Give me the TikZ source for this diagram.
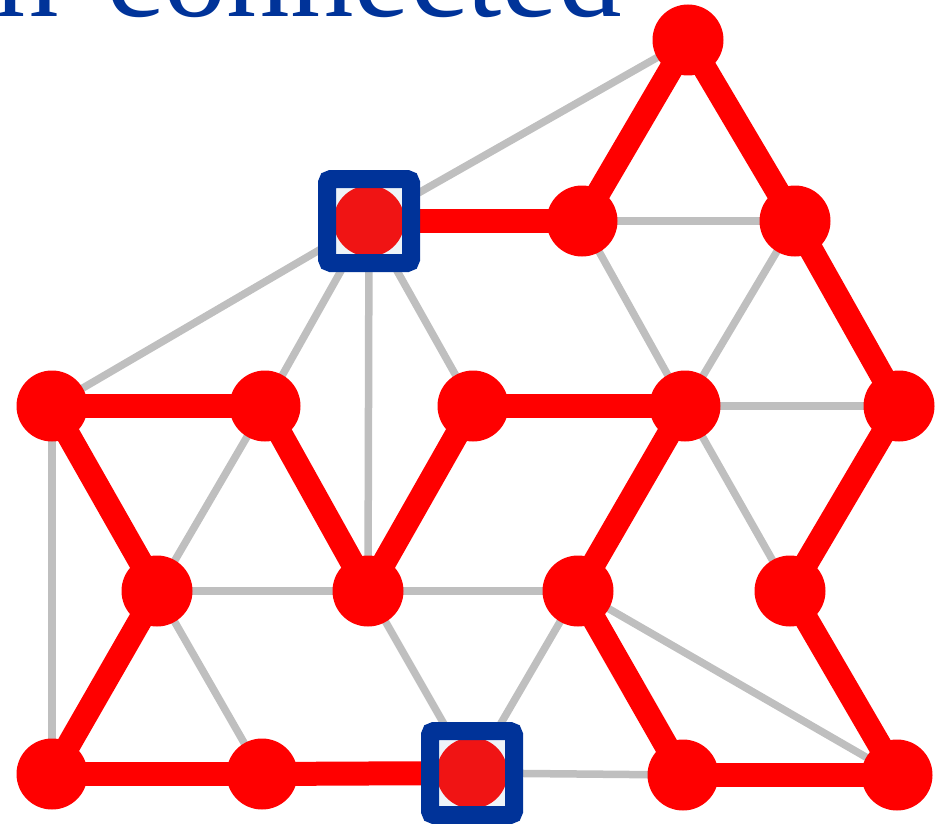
\documentclass[tikz,border=0pt]{standalone}
\usepackage{fontspec}
\setmainfont{Liberation Serif}
\pgfdeclarelayer{bg}
\pgfdeclarelayer{mid}
\pgfdeclarelayer{fg}
\pgfsetlayers{bg,mid,main,fg}
\definecolor{edgered}{RGB}{255,0,0}
\definecolor{termred}{RGB}{240,20,20}
\definecolor{sqblue}{RGB}{0,51,153}
\definecolor{lgray}{RGB}{191,191,191}
\definecolor{sqfill}{RGB}{238,244,248}
\begin{document}
\begin{tikzpicture}[x=1pt,y=-1pt,
  vtx/.style={circle,fill=edgered,minimum size=71pt,inner sep=0pt},
  term/.style={circle,fill=termred,minimum size=71pt,inner sep=0pt},
  gedge/.style={draw=lgray,line width=7.5pt},
  redge/.style={draw=edgered,line width=24pt},
  sqback/.style={fill=sqfill,minimum size=84pt,inner sep=0pt},
  sqframe/.style={draw=sqblue,line width=18pt,rounded corners=4pt,minimum size=84pt,inner sep=0pt},
  title/.style={anchor=base west,text=sqblue,inner sep=0pt,font=\fontsize{127}{130}\selectfont}]
\useasboundingbox (0,0) rectangle (942,824);
\node[title] (ttl) at (-5,17) {\spaceskip=0.38em n connected};
% vertices
\node[vtx] (A) at (688,40) {};
\node[term] (S1) at (369,221) {};
\node[vtx] (B) at (582,221) {};
\node[vtx] (C) at (795,221) {};
\node[vtx] (D) at (52,406) {};
\node[vtx] (E) at (265,406) {};
\node[vtx] (F) at (473,406) {};
\node[vtx] (G) at (685,406) {};
\node[vtx] (H) at (899,406) {};
\node[vtx] (I) at (157,591) {};
\node[vtx] (J) at (368,591) {};
\node[vtx] (K) at (578,591) {};
\node[vtx] (L) at (790,591) {};
\node[vtx] (M) at (52,774) {};
\node[vtx] (N) at (262,774) {};
\node[term] (S2) at (472,773) {};
\node[vtx] (O) at (683,775) {};
\node[vtx] (P) at (897,775) {};
% terminal squares
\begin{pgfonlayer}{mid}
\node[sqback] (S1b) at (S1) {};
\node[sqback] (S2b) at (S2) {};
\end{pgfonlayer}
\begin{pgfonlayer}{fg}
\node[sqframe] (S1f) at (S1) {};
\node[sqframe] (S2f) at (S2) {};
\end{pgfonlayer}
% edges
\begin{pgfonlayer}{bg}
\foreach \a/\b in {A/S1,S1/D,S1/E,S1/J,S1/F,B/G,C/G,B/C,G/H,D/M,E/I,I/J,J/K,G/L,I/N,J/S2,K/S2,S2/O,K/P}
  \draw[gedge] (\a.center) -- (\b.center);
\foreach \a/\b in {S1/B,B/A,A/C,C/H,H/L,L/P,P/O,O/K,K/G,G/F,F/J,J/E,E/D,D/I,I/M,M/N,N/S2}
  \draw[redge] (\a.center) -- (\b.center);
\end{pgfonlayer}
\end{tikzpicture}
\end{document}
